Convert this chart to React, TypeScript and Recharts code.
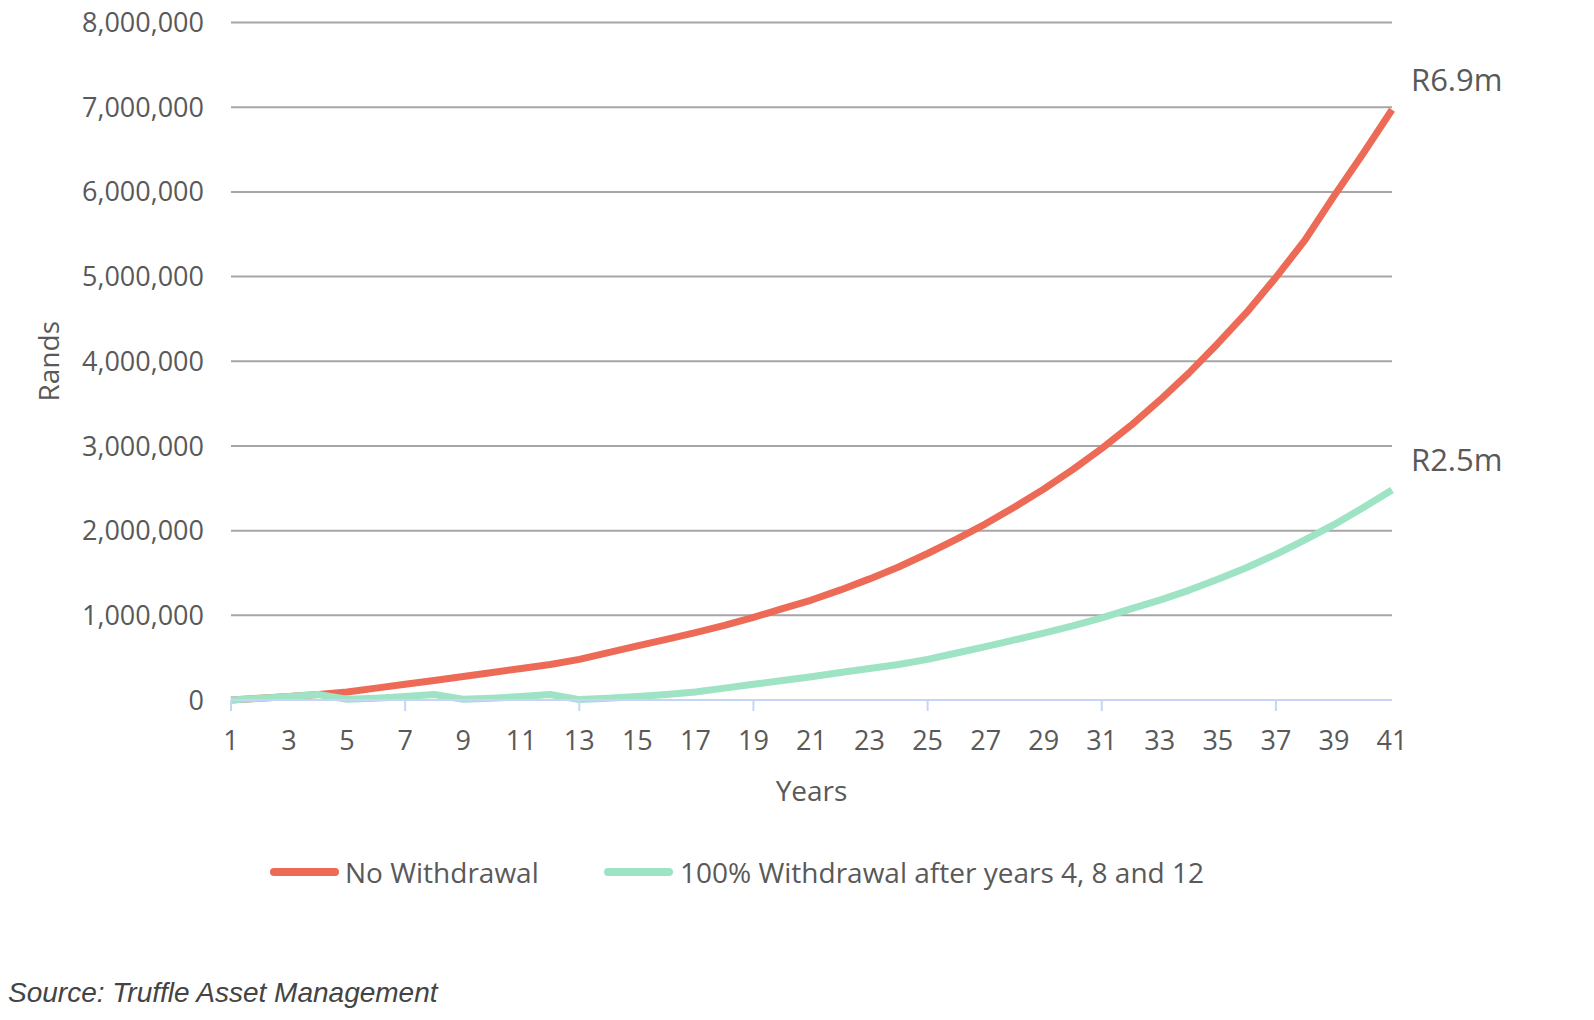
import React from 'react';
import { LineChart, Line, XAxis, YAxis, CartesianGrid, Legend, LabelList } from 'recharts';

const years = [1,2,3,4,5,6,7,8,9,10,11,12,13,14,15,16,17,18,19,20,21,22,23,24,25,26,27,28,29,30,31,32,33,34,35,36,37,38,39,40,41];

const noWithdrawal = [
  0, 22000, 42000, 65000, 95000, 140000, 185000, 230000, 278000, 325000,
  372000, 420000, 480000, 560000, 640000, 715000, 795000, 880000, 975000, 1080000,
  1180000, 1300000, 1430000, 1570000, 1730000, 1900000, 2080000, 2280000, 2490000, 2720000,
  2970000, 3240000, 3540000, 3860000, 4210000, 4580000, 4990000, 5430000, 5950000, 6450000,
  6970000,
];

const withdrawal = [
  0, 20000, 40000, 65000, 8000, 22000, 40000, 65000, 8000, 22000,
  40000, 65000, 5000, 22000, 42000, 65000, 95000, 140000, 185000, 230000,
  275000, 325000, 372000, 420000, 480000, 555000, 630000, 710000, 790000, 875000,
  970000, 1075000, 1180000, 1295000, 1425000, 1565000, 1720000, 1890000, 2070000, 2270000,
  2480000,
];

const yTicks = [0, 1000000, 2000000, 3000000, 4000000, 5000000, 6000000, 7000000, 8000000];
const xTicks = [1,3,5,7,9,11,13,15,17,19,21,23,25,27,29,31,33,35,37,39,41];
const seriesNames = ['No Withdrawal', '100% Withdrawal after years 4, 8 and 12'];
const endLabels = ['R6.9m', 'R2.5m'];
const colors = ['#ED6A56', '#9DE3C4'];

const data = years.map((y, i) => ({ year: y, a: noWithdrawal[i], b: withdrawal[i] }));

const TEXT = '#595959';
const FONT = '"Open Sans", sans-serif';

const XTick = (props: any) => {
  const { x, y, payload } = props;
  const v = payload.value;
  return (
    <g>
      {(v - 1) % 6 === 0 && (
        <line x1={x} x2={x} y1={y} y2={y + 11} stroke="#c6d5f5" strokeWidth={2} />
      )}
      <text x={x} y={y + 39} textAnchor="middle" dominantBaseline="central" fill={TEXT} fontSize={27} fontFamily={FONT}>
        {v}
      </text>
    </g>
  );
};

const makeEndLabel = (text: string) => (props: any) => {
  const { x, y, index } = props;
  if (index !== years.length - 1) return null;
  return (
    <text x={x + 19} y={y - 31} dominantBaseline="central" fill={TEXT} fontSize={31} fontFamily={FONT}>
      {text}
    </text>
  );
};

const LegendContent = () => (
  <div style={{ position: 'relative', height: 40, width: 1578, fontFamily: FONT, fontSize: 28, color: TEXT }}>
    <div style={{ position: 'absolute', left: 262, top: 16, width: 69, height: 8, borderRadius: 4, background: colors[0] }} />
    <div style={{ position: 'absolute', left: 337, top: 0, lineHeight: '40px', whiteSpace: 'nowrap' }}>{seriesNames[0]}</div>
    <div style={{ position: 'absolute', left: 596, top: 16, width: 69, height: 8, borderRadius: 4, background: colors[1] }} />
    <div style={{ position: 'absolute', left: 672, top: 0, lineHeight: '40px', whiteSpace: 'nowrap' }}>{seriesNames[1]}</div>
  </div>
);

export default function App() {
  return (
    <div style={{ position: 'relative', top: -8, width: 1578, height: 1020 }}>
      <LineChart
        width={1578}
        height={1020}
        data={data}
        margin={{ top: 22.5, right: 194, left: 0, bottom: 210 }}
      >
        <CartesianGrid vertical={false} stroke="#a6a6a6" strokeWidth={2} />
        <XAxis
          dataKey="year"
          type="number"
          domain={[1, 41]}
          ticks={xTicks}
          interval={0}
          height={110}
          tickSize={0}
          tickMargin={0}
          tickLine={false}
          axisLine={{ stroke: '#c6d5f5', strokeWidth: 2 }}
          tick={<XTick />}
          label={{ value: 'Years', position: 'insideBottom', offset: 9, fill: TEXT, fontSize: 28, fontFamily: FONT }}
        />
        <YAxis
          type="number"
          domain={[0, 8000000]}
          ticks={yTicks}
          interval={0}
          width={223}
          tickSize={0}
          tickMargin={27}
          tickLine={false}
          axisLine={false}
          tickFormatter={(v: number) => v.toLocaleString('en-US')}
          tick={{ fill: TEXT, fontSize: 27, fontFamily: FONT }}
          label={{ value: 'Rands', angle: -90, position: 'insideLeft', offset: 41, fill: TEXT, fontSize: 28, fontFamily: FONT, style: { textAnchor: 'middle' } }}
        />
        <Legend
          layout="horizontal"
          align="center"
          verticalAlign="middle"
          wrapperStyle={{ position: 'absolute', top: 852, left: 0, width: 1578, height: 40 }}
          content={<LegendContent />}
        />
        <Line
          type="linear"
          dataKey="a"
          name={seriesNames[0]}
          stroke={colors[0]}
          strokeWidth={7}
          strokeLinejoin="round"
          dot={false}
          isAnimationActive={false}
        >
          <LabelList dataKey="a" content={makeEndLabel(endLabels[0])} />
        </Line>
        <Line
          type="linear"
          dataKey="b"
          name={seriesNames[1]}
          stroke={colors[1]}
          strokeWidth={7}
          strokeLinejoin="round"
          dot={false}
          isAnimationActive={false}
        >
          <LabelList dataKey="b" content={makeEndLabel(endLabels[1])} />
        </Line>
      </LineChart>
      <div
        style={{
          position: 'absolute',
          left: 0,
          top: 977,
          fontFamily: '"Liberation Sans", Arial, sans-serif',
          fontStyle: 'italic',
          fontSize: 28,
          lineHeight: '32px',
          color: '#444444',
          whiteSpace: 'nowrap',
        }}
      >
        Source: Truffle Asset Management
      </div>
    </div>
  );
}
